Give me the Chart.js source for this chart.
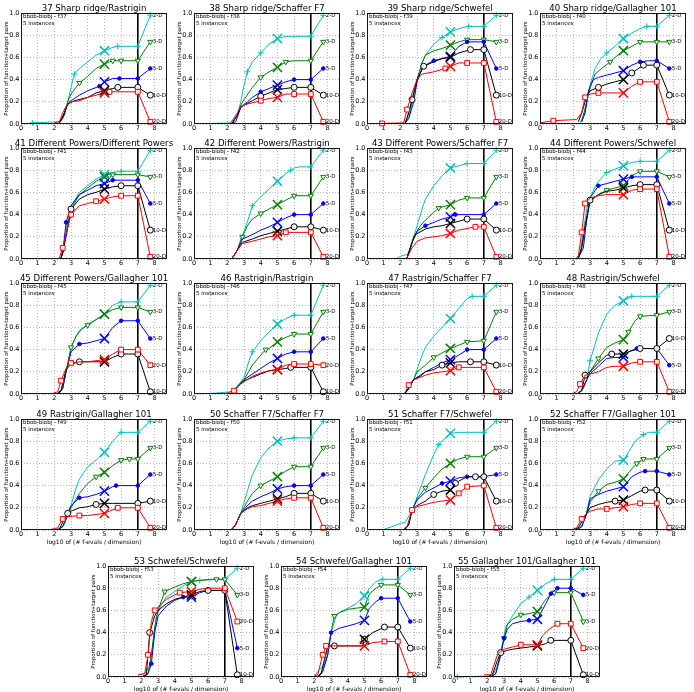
<!DOCTYPE html>
<html><head><meta charset="utf-8">
<script src="https://cdn.jsdelivr.net/npm/chart.js@4.4.1/dist/chart.umd.min.js"></script>
<style>
html,body{margin:0;padding:0;background:#fff}
body{width:694px;height:692px;position:relative;overflow:hidden}
canvas{position:absolute}
</style>
</head><body>
<script>
// ---------------- data ----------------
const dims = ['2-D', '3-D', '5-D', '10-D', '20-D'];
const seriesColors = ['#00BFBF', '#008000', '#0000FF', '#000000', '#FF0000'];
const panelIds = [37,38,39,40,41,42,43,44,45,46,47,48,49,50,51,52,53,54,55];
const titles = [
  '37 Sharp ridge/Rastrigin', '38 Sharp ridge/Schaffer F7', '39 Sharp ridge/Schwefel', '40 Sharp ridge/Gallagher 101',
  '41 Different Powers/Different Powers', '42 Different Powers/Rastrigin', '43 Different Powers/Schaffer F7', '44 Different Powers/Schwefel',
  '45 Different Powers/Gallagher 101', '46 Rastrigin/Rastrigin', '47 Rastrigin/Schaffer F7', '48 Rastrigin/Schwefel',
  '49 Rastrigin/Gallagher 101', '50 Schaffer F7/Schaffer F7', '51 Schaffer F7/Schwefel', '52 Schaffer F7/Gallagher 101',
  '53 Schwefel/Schwefel', '54 Schwefel/Gallagher 101', '55 Gallagher 101/Gallagher 101'
];
const xTicks = [0, 1, 2, 3, 4, 5, 6, 7, 8];
const yTicks = [0, 0.2, 0.4, 0.6, 0.8, 1.0];
const xMax = 8.75;
const budgetLine = 7;   // log10 of max budget (vertical line)
const medianMark = 5;   // position of the big X markers
const instancesText = '5 instances';
const xLabelText = 'log10 of (# f-evals / dimension)';
const yLabelText = 'Proportion of function+target pairs';

// each panel: [2-D, 3-D, 5-D, 10-D, 20-D]; points [x, y, marker?]
const f37 = [
 [[0.7,0.01,1],[2.3,0.02],[2.6,0.08],[2.8,0.2],[3.0,0.33],[3.2,0.45,1],[3.5,0.5],[4.0,0.56],[4.5,0.62],[5,0.66],[5.5,0.69],[5.8,0.7,1],[7,0.7],[7.75,0.98]],
 [[2.3,0.01],[2.6,0.08],[2.8,0.2],[3.0,0.27],[3.5,0.37,1],[4,0.43],[4.5,0.5],[5,0.54],[5.3,0.56],[5.5,0.57,1],[6,0.57,1],[7,0.57],[7.75,0.74]],
 [[2.3,0.01],[2.5,0.05],[2.7,0.15],[2.9,0.2],[3.5,0.26],[4,0.3],[4.7,0.34,1],[5,0.38],[5.5,0.41],[5.9,0.41,1],[7,0.41],[7.75,0.5]],
 [[2.3,0.01],[2.6,0.1],[2.8,0.18],[3.2,0.21],[4,0.24],[4.5,0.28],[5,0.3],[5.5,0.32],[5.8,0.33,1],[7,0.33],[7.75,0.26]],
 [[2.0,0.01],[2.3,0.02],[2.5,0.1],[2.7,0.16],[3,0.2],[3.5,0.21],[4,0.24],[4.5,0.26],[5,0.28],[5.3,0.29,1],[6,0.29],[7,0.29],[7.75,0.02]]
];
const f38 = [
 [[1,0.005],[2.3,0.01],[2.6,0.08],[2.8,0.2],[3.0,0.35],[3.2,0.47,1],[3.5,0.56],[4.0,0.64,1],[4.5,0.72],[5,0.77],[5.5,0.79],[6,0.79],[7,0.79],[7.75,0.98]],
 [[2.3,0.01],[2.6,0.08],[2.8,0.17],[3.0,0.22],[3.5,0.33],[4,0.42,1],[4.5,0.47],[5,0.51],[5.5,0.56,1],[6,0.57],[7,0.57],[7.75,0.74]],
 [[2.3,0.01],[2.5,0.02],[2.8,0.15],[3.2,0.2],[3.5,0.24],[4,0.29,1],[4.5,0.32],[5,0.35],[5.5,0.38],[6,0.4,1],[7,0.4],[7.75,0.5]],
 [[2.3,0.01],[2.6,0.08],[2.8,0.15],[3,0.17],[3.5,0.21],[4,0.25,1],[4.5,0.28],[5,0.31],[5.5,0.32],[6,0.33,1],[7,0.33],[7.75,0.26]],
 [[2.2,0.01],[2.6,0.1],[2.8,0.16],[3.2,0.18],[4,0.21,1],[4.5,0.23],[5,0.24],[5.5,0.27],[6,0.27,1],[7,0.27],[7.75,0.02]]
];
const f39 = [
 [[2.2,0.01],[2.5,0.05],[2.8,0.25],[3.0,0.4],[3.3,0.55],[3.5,0.62],[4,0.72],[4.5,0.78,1],[5,0.83],[5.5,0.86],[6.1,0.88,1],[7,0.88],[7.75,0.98]],
 [[2.3,0.01],[2.6,0.15],[3.0,0.4],[3.3,0.55],[3.5,0.62],[4,0.66],[4.5,0.68],[5,0.71],[5.5,0.74],[6,0.76,1],[7,0.76],[7.75,0.74]],
 [[2.3,0.01],[2.5,0.05],[2.8,0.2],[3.0,0.38],[3.3,0.5],[3.6,0.54],[4,0.57,1],[4.5,0.59],[5,0.61],[5.5,0.7],[6,0.74,1],[7,0.74],[7.75,0.5]],
 [[2.3,0.01],[2.5,0.1],[2.7,0.22,1],[3.0,0.4],[3.4,0.52,1],[4,0.56],[4.5,0.59],[5,0.6],[5.5,0.64],[6.2,0.67,1],[7,0.67],[7.75,0.26]],
 [[0.9,0.005,1],[2.2,0.01],[2.4,0.13,1],[2.7,0.28],[3.0,0.4],[3.3,0.45],[4,0.47],[4.7,0.5,1],[5,0.52],[5.5,0.55],[6,0.55,1],[7,0.55],[7.75,0.02]]
];
const f40 = [
 [[2.4,0.01],[2.7,0.1],[3.0,0.35],[3.3,0.5],[3.6,0.58],[4,0.64,1],[4.5,0.7],[5,0.77],[5.5,0.82],[6,0.86],[6.4,0.88,1],[7,0.88],[7.75,0.98]],
 [[2.5,0.02],[2.8,0.2],[3.0,0.33],[3.3,0.45],[3.7,0.5],[4.2,0.56,1],[4.5,0.6],[5,0.66],[5.5,0.7],[6,0.74,1],[7,0.74],[7.75,0.74]],
 [[2.5,0.02],[2.7,0.1],[2.9,0.3],[3.2,0.4],[3.5,0.42],[4,0.44],[4.5,0.46],[5,0.48],[5.5,0.53],[6,0.56,1],[6.5,0.57],[7,0.57],[7.75,0.5]],
 [[2.3,0.02],[2.5,0.1],[2.8,0.25],[3.0,0.3],[3.5,0.33,1],[4,0.36],[4.5,0.38],[5,0.4],[5.5,0.46,1],[6.2,0.53,1],[7,0.53],[7.75,0.26]],
 [[0,0.01],[0.8,0.03,1],[2.2,0.04],[2.5,0.1],[2.7,0.24,1],[3.0,0.27],[3.5,0.28,1],[4,0.28],[5,0.28],[5.5,0.34],[6,0.38,1],[7,0.38],[7.75,0.02]]
];
const f41 = [
 [[2.4,0.01],[2.6,0.15],[2.8,0.35],[3.0,0.48],[3.3,0.55],[3.5,0.6],[4,0.66],[4.5,0.72],[5,0.76],[5.5,0.78],[6,0.79,1],[7,0.79],[7.75,0.98]],
 [[2.4,0.01],[2.6,0.15],[2.8,0.3],[3,0.45],[3.5,0.58],[4,0.64],[4.5,0.7],[5,0.74],[5.3,0.75,1],[5.5,0.76,1],[6,0.76],[7,0.76],[7.75,0.74]],
 [[2.4,0.01],[2.5,0.05],[2.7,0.33,1],[3,0.48],[3.5,0.58],[4,0.62],[4.5,0.66],[5,0.68],[5.5,0.71,1],[6,0.71],[7,0.71],[7.75,0.5]],
 [[2.4,0.01],[2.5,0.05],[2.7,0.2],[3,0.45,1],[3.5,0.54],[4,0.58],[4.5,0.6],[5,0.63],[5.5,0.65],[6,0.66,1],[7,0.66],[7.75,0.26]],
 [[2.3,0.01],[2.5,0.1,1],[3,0.4,1],[3.5,0.48],[4,0.5],[4.5,0.52,1],[5,0.54],[5.5,0.56],[6,0.57,1],[7,0.57],[7.75,0.02]]
];
const f42 = [
 [[2.3,0.01],[2.6,0.08],[2.8,0.18],[3.0,0.25],[3.3,0.38],[3.5,0.48,1],[4,0.56],[4.5,0.63],[5,0.7],[5.5,0.77],[5.8,0.8,1],[6,0.82],[6.3,0.83],[7,0.83],[7.75,0.98]],
 [[2.3,0.01],[2.6,0.08],[2.9,0.2,1],[3.2,0.3],[3.5,0.36],[4,0.41,1],[4.5,0.45],[5,0.49],[5.5,0.53],[6,0.57,1],[7,0.57],[7.75,0.74]],
 [[2.3,0.01],[2.6,0.08],[2.9,0.18],[3.5,0.22],[4,0.26],[4.5,0.29],[5,0.33],[5.5,0.37],[6,0.4,1],[7,0.4],[7.75,0.5]],
 [[2.3,0.01],[2.6,0.08],[2.9,0.15],[3.5,0.18],[4,0.21],[4.5,0.23],[5,0.25],[5.5,0.27],[6,0.29,1],[7,0.29],[7.75,0.26]],
 [[2.3,0.01],[2.6,0.08],[2.9,0.14],[3.5,0.16],[4,0.18],[4.5,0.2],[5,0.21],[5.5,0.24,1],[6,0.24],[7,0.24],[7.75,0.02]]
];
const f43 = [
 [[1.8,0.01],[2.1,0.03],[2.4,0.04],[2.6,0.08],[2.8,0.2],[3.0,0.3],[3.3,0.45],[3.5,0.54],[4,0.66],[4.5,0.75],[5,0.82],[5.5,0.84],[6,0.86,1],[7,0.86],[7.75,0.98]],
 [[2.4,0.01],[2.6,0.1],[2.8,0.2],[3.2,0.3],[3.5,0.35],[4,0.42],[4.3,0.46,1],[5,0.49],[5.5,0.53],[6,0.55,1],[7,0.55],[7.75,0.74]],
 [[2.4,0.01],[2.7,0.15],[3.0,0.25],[3.5,0.3,1],[4,0.33],[4.5,0.36],[5,0.38],[5.3,0.4,1],[6,0.4],[7,0.4],[7.75,0.5]],
 [[2.4,0.01],[2.7,0.15],[2.9,0.22],[3.5,0.27],[4,0.29],[4.5,0.3],[5,0.32],[5.5,0.34],[6,0.36,1],[7,0.36],[7.75,0.26]],
 [[2.4,0.01],[2.7,0.1],[3.0,0.16],[3.5,0.19],[4,0.2],[4.5,0.21],[5,0.23],[5.5,0.26],[6.5,0.29,1],[7,0.29],[7.75,0.02]]
];
const f44 = [
 [[2.2,0.01],[2.4,0.05],[2.6,0.25],[2.8,0.45],[3.0,0.55],[3.3,0.65],[3.5,0.7],[4,0.78,1],[4.5,0.81],[5,0.84],[5.5,0.87],[6,0.88,1],[7,0.88],[7.75,0.98]],
 [[2.3,0.01],[2.5,0.1],[2.8,0.35],[3.0,0.52],[3.5,0.58],[4,0.62,1],[4.5,0.64],[5,0.66],[5.5,0.75],[6,0.79,1],[7,0.79],[7.75,0.74]],
 [[2.3,0.01],[2.6,0.1],[2.8,0.36],[3.0,0.55],[3.5,0.66,1],[4,0.68],[4.5,0.7],[5,0.72],[5.5,0.74,1],[6,0.74],[7,0.74],[7.75,0.5]],
 [[2.3,0.01],[2.5,0.1],[2.7,0.3],[3.0,0.53,1],[3.5,0.58],[4,0.61],[4.5,0.62],[5,0.64],[5.5,0.66],[6,0.67,1],[7,0.67],[7.75,0.26]],
 [[2.2,0.01],[2.3,0.03],[2.5,0.24,1],[2.7,0.5,1],[3,0.55],[3.5,0.57],[4,0.58],[4.5,0.58],[5,0.58],[5.5,0.62],[6,0.63,1],[7,0.63],[7.75,0.02]]
];
const f45 = [
 [[2.2,0.01],[2.4,0.03],[2.7,0.2],[3.0,0.42],[3.3,0.52],[3.5,0.57],[4,0.63],[4.5,0.67],[5,0.72],[5.5,0.8],[6,0.83,1],[7,0.83],[7.75,0.98]],
 [[2.3,0.01],[2.5,0.05],[2.7,0.2],[3.0,0.42,1],[3.3,0.52],[3.6,0.58],[4,0.62,1],[4.5,0.67],[5,0.72],[5.5,0.76],[6,0.78,1],[7,0.78],[7.75,0.74]],
 [[2.3,0.01],[2.5,0.05],[2.7,0.2],[3.0,0.38],[3.5,0.45,1],[4,0.46],[4.5,0.48],[5,0.5],[5.5,0.6],[6,0.66,1],[7,0.66],[7.75,0.5]],
 [[2.2,0.01],[2.4,0.03],[2.7,0.22],[3.0,0.27],[3.5,0.29,1],[4,0.29],[4.5,0.29],[5,0.29],[5.5,0.33],[6,0.36,1],[7,0.36],[7.75,0.02]],
 [[1.9,0.005],[2.2,0.02],[2.4,0.12,1],[2.7,0.23],[3.0,0.28,1],[3.5,0.29],[4,0.29],[4.5,0.3],[5,0.31],[5.5,0.36],[6,0.4,1],[7,0.4],[7.75,0.26]]
];
const f46 = [
 [[1.0,0.005],[2.3,0.02],[2.6,0.07],[3.0,0.15],[3.3,0.3],[3.5,0.38,1],[4,0.48],[4.5,0.56],[5,0.63],[5.5,0.68],[6,0.71,1],[7,0.71],[7.75,0.98]],
 [[2.3,0.01],[2.6,0.07],[3.0,0.13],[3.5,0.26],[4,0.35],[4.3,0.4,1],[4.5,0.41],[5,0.47],[5.5,0.51],[6,0.54,1],[7,0.54],[7.75,0.74]],
 [[2.3,0.01],[2.7,0.08],[3.0,0.13],[3.5,0.18],[4,0.23],[4.5,0.28],[5,0.32],[5.5,0.36],[6,0.38,1],[7,0.38],[7.75,0.5]],
 [[2.3,0.01],[2.7,0.08],[3,0.12],[3.5,0.15],[4,0.18],[4.5,0.21],[5,0.22],[5.5,0.23],[5.8,0.24,1],[7,0.24],[7.75,0.02]],
 [[2.0,0.01],[2.4,0.03,1],[2.7,0.08],[3,0.11],[3.5,0.16],[4,0.19],[4.5,0.21],[5,0.22],[5.5,0.26],[6,0.27,1],[7,0.27],[7.75,0.26]]
];
const f47 = [
 [[2.2,0.005],[2.5,0.05],[2.8,0.13],[3.0,0.22],[3.3,0.35],[3.5,0.42],[4,0.52],[4.5,0.6],[5,0.68],[5.5,0.77],[6,0.86],[6.3,0.88,1],[7,0.88],[7.75,0.98]],
 [[2.3,0.01],[2.5,0.05],[2.8,0.13],[3.0,0.2],[3.5,0.26],[4,0.33,1],[4.5,0.37],[5,0.41],[5.5,0.44],[6,0.47,1],[7,0.48],[7.75,0.74]],
 [[2.3,0.01],[2.5,0.05],[2.8,0.13],[3.2,0.17],[3.5,0.2],[4,0.24],[4.5,0.28],[5,0.31],[5.5,0.35],[6,0.4,1],[7,0.4],[7.75,0.5]],
 [[2.3,0.01],[2.5,0.05],[2.8,0.13],[3.2,0.16],[3.5,0.2],[4,0.22],[4.5,0.26,1],[5,0.28],[5.5,0.29],[6.2,0.29,1],[7,0.29],[7.75,0.26]],
 [[2.3,0.02],[2.5,0.08,1],[2.8,0.13],[3.2,0.15],[3.5,0.17],[4,0.19],[4.5,0.2],[5,0.21],[5.5,0.24,1],[6,0.24],[7,0.24],[7.75,0.02]]
];
const f48 = [
 [[2.3,0.01],[2.6,0.05],[2.8,0.12],[3.0,0.3,1],[3.3,0.45],[3.5,0.55],[4,0.72],[4.5,0.8],[5,0.84],[5.5,0.88,1],[6,0.88],[7,0.88],[7.75,0.98]],
 [[2.3,0.01],[2.5,0.03],[2.8,0.13],[3.0,0.2],[3.5,0.32,1],[4,0.42],[4.5,0.46],[5,0.49],[5.3,0.56,1],[5.7,0.66],[6,0.7,1],[7,0.71],[7.75,0.74]],
 [[2.3,0.01],[2.5,0.03],[2.8,0.13],[3.0,0.18],[3.5,0.25],[4,0.32],[4.5,0.33],[5,0.33],[5.3,0.38],[5.8,0.41,1],[7,0.41],[7.75,0.26]],
 [[2.3,0.01],[2.5,0.03],[2.7,0.17,1],[3.0,0.2],[3.5,0.28],[4,0.35],[4.3,0.36,1],[5,0.36],[5.5,0.39],[6,0.41,1],[7,0.41],[7.75,0.5]],
 [[2.0,0.01],[2.2,0.02],[2.4,0.09,1],[2.7,0.17],[3.0,0.18],[3.5,0.2],[4,0.24],[4.5,0.25],[5,0.25],[5.5,0.28],[6,0.29,1],[7,0.29],[7.75,0.02]]
];
const f49 = [
 [[2.3,0.01],[2.6,0.05],[2.8,0.13],[3.0,0.22],[3.3,0.38],[3.5,0.46],[4,0.57],[4.5,0.63],[5,0.7],[5.5,0.8],[6,0.88,1],[7,0.88],[7.75,0.98]],
 [[2.3,0.01],[2.5,0.03],[2.8,0.13],[3,0.2],[3.5,0.33],[4,0.42],[4.5,0.48,1],[5,0.52],[5.5,0.58],[6,0.63,1],[6.5,0.64,1],[7,0.64],[7.75,0.74]],
 [[2.3,0.01],[2.5,0.03],[2.8,0.15],[3.0,0.22],[3.5,0.29,1],[4,0.3],[4.5,0.32],[5,0.35],[5.5,0.39],[5.7,0.4,1],[7,0.4],[7.75,0.5]],
 [[2.1,0.005],[2.3,0.01],[2.6,0.1],[2.8,0.15,1],[3.0,0.17],[3.5,0.2],[4,0.21],[4.5,0.23,1],[5,0.24],[5.5,0.24],[6,0.24],[7,0.24],[7.75,0.26]],
 [[1.8,0.005],[2.2,0.02],[2.5,0.1,1],[2.8,0.12],[3.5,0.13,1],[4,0.13],[4.5,0.14],[5,0.15],[5.3,0.17],[5.8,0.2,1],[7,0.2],[7.75,0.02]]
];
const f50 = [
 [[2.2,0.005],[2.5,0.05],[2.8,0.15],[3.0,0.25],[3.3,0.4],[3.5,0.5],[4,0.65],[4.5,0.74],[5,0.8],[5.5,0.82],[6,0.83,1],[7,0.83],[7.75,0.98]],
 [[2.3,0.01],[2.5,0.05],[2.8,0.15],[3.2,0.26],[3.5,0.33],[4,0.4,1],[4.5,0.44],[5,0.48],[5.5,0.53],[6,0.57,1],[7,0.57],[7.75,0.74]],
 [[2.3,0.01],[2.5,0.05],[2.8,0.15],[3.2,0.22],[3.5,0.26],[4,0.3],[4.5,0.33],[5,0.37],[5.5,0.39],[6,0.4,1],[7,0.4],[7.75,0.5]],
 [[2.3,0.01],[2.5,0.05],[2.8,0.15],[3.2,0.2],[3.5,0.22],[4,0.24],[4.5,0.26],[5,0.28],[5.5,0.3],[6,0.33,1],[7,0.33],[7.75,0.26]],
 [[2.3,0.01],[2.5,0.05],[2.8,0.15],[3.2,0.19],[3.5,0.21],[4,0.22],[4.5,0.24],[5,0.26],[5.5,0.28],[6,0.29,1],[7,0.29],[7.75,0.02]]
];
const f51 = [
 [[1.0,0.005],[1.5,0.03],[2.0,0.06],[2.3,0.07],[2.6,0.15],[2.8,0.2],[3.0,0.3],[3.5,0.5],[4,0.68],[4.3,0.77,1],[4.5,0.8],[5,0.87],[5.5,0.88],[7,0.88],[7.75,0.98]],
 [[2.3,0.01],[2.5,0.05],[2.7,0.18],[3.0,0.28],[3.5,0.38,1],[4,0.47],[4.5,0.55],[5,0.6],[5.5,0.64],[6,0.66,1],[7,0.66],[7.75,0.74]],
 [[2.3,0.01],[2.5,0.05],[2.7,0.18],[3.0,0.27],[3.5,0.34],[4,0.38],[4.5,0.42,1],[5,0.44],[5.5,0.47],[6,0.48,1],[7,0.48],[7.75,0.5]],
 [[2.3,0.01],[2.5,0.05],[2.7,0.18],[3.0,0.22],[3.5,0.26],[4,0.32,1],[4.5,0.35],[5,0.36],[5.3,0.42,1],[5.5,0.44],[6,0.48],[6.5,0.48,1],[7,0.48],[7.75,0.26]],
 [[2.2,0.01],[2.4,0.03],[2.7,0.18,1],[3.0,0.21],[3.5,0.23],[4,0.25],[4.5,0.26],[5,0.27],[5.5,0.33,1],[6,0.39,1],[7,0.4],[7.75,0.02]]
];
const f52 = [
 [[2.2,0.01],[2.4,0.02],[2.7,0.1],[3.0,0.3],[3.5,0.45],[4,0.55],[4.5,0.62],[5,0.63],[5.3,0.7],[5.7,0.8],[6.2,0.86,1],[6.5,0.88],[7,0.88],[7.75,0.98]],
 [[2.3,0.01],[2.5,0.03],[2.8,0.15],[3.0,0.25],[3.5,0.35,1],[4,0.41],[4.5,0.43],[5,0.46],[5.5,0.55],[5.8,0.6,1],[6.2,0.64,1],[7,0.64],[7.75,0.74]],
 [[2.3,0.01],[2.5,0.03],[2.8,0.15],[3.0,0.28],[3.5,0.32],[4,0.35],[4.5,0.37],[5,0.39],[5.5,0.48],[6,0.52],[6.3,0.53,1],[7,0.53],[7.75,0.5]],
 [[2.1,0.01],[2.3,0.02],[2.6,0.1],[3.0,0.2],[3.5,0.23],[4,0.25],[4.5,0.26,1],[5,0.27],[5.5,0.31],[6,0.35],[6.3,0.36,1],[7,0.36],[7.75,0.26]],
 [[2.0,0.01],[2.2,0.02],[2.5,0.1,1],[2.8,0.15],[3.0,0.17],[3.5,0.19],[4,0.19,1],[4.5,0.2],[5,0.21],[5.5,0.23],[6,0.24,1],[7,0.24],[7.75,0.02]]
];
const f53 = [
 [[1.8,0.02],[2.2,0.03],[2.5,0.1],[2.7,0.3],[2.9,0.55],[3.2,0.65],[3.5,0.72],[4,0.77],[4.5,0.82],[5,0.86],[5.5,0.87,1],[6,0.88],[7,0.88],[7.75,0.98]],
 [[2.2,0.01],[2.4,0.03],[2.6,0.2],[2.8,0.45],[3.0,0.6],[3.4,0.77,1],[4,0.81],[4.5,0.84],[5,0.86],[5.5,0.87],[6.5,0.88,1],[7,0.88],[7.75,0.74]],
 [[2.2,0.01],[2.4,0.03],[2.6,0.12,1],[2.8,0.4],[3.0,0.55],[3.5,0.64],[4,0.69],[4.5,0.72,1],[5,0.72],[5.5,0.76],[6,0.78],[7,0.78],[7.75,0.26]],
 [[2.1,0.01],[2.3,0.02],[2.5,0.4,1],[2.8,0.55],[3.0,0.6],[3.5,0.66],[4,0.7],[4.5,0.72],[5,0.74],[5.5,0.77],[6,0.78,1],[7,0.78],[7.75,0.02]],
 [[1.8,0.02],[2.2,0.03],[2.4,0.2,1],[2.6,0.5],[2.8,0.6,1],[3.0,0.63],[3.5,0.7],[4.0,0.74],[4.3,0.76,1],[5,0.77],[5.5,0.79],[6,0.8],[7,0.8],[7.75,0.5]]
];
const f54 = [
 [[2.0,0.01],[2.5,0.1],[2.8,0.25],[3.0,0.4],[3.3,0.55],[3.5,0.58],[4,0.62],[4.5,0.66],[5,0.73],[5.3,0.8],[5.7,0.86],[6.1,0.88,1],[7,0.88],[7.75,0.98]],
 [[2.3,0.01],[2.5,0.05],[2.8,0.2],[3.0,0.4],[3.2,0.55,1],[3.5,0.58],[4,0.61],[4.5,0.62],[5,0.63],[5.3,0.75],[5.7,0.8],[6,0.83,1],[7,0.83],[7.75,0.74]],
 [[2.3,0.01],[2.5,0.05],[2.8,0.2],[3.0,0.4,1],[3.5,0.44],[4,0.46],[4.5,0.48],[5,0.51],[5.3,0.62],[5.7,0.68],[6,0.71,1],[7,0.71],[7.75,0.5]],
 [[2.2,0.01],[2.4,0.03],[2.6,0.15],[2.8,0.28],[3.2,0.28,1],[4,0.28],[4.9,0.28],[5,0.34,1],[5.5,0.4],[6.2,0.45,1],[7,0.45],[7.75,0.26]],
 [[2.0,0.01],[2.2,0.02],[2.5,0.2,1],[2.7,0.28,1],[3.0,0.28],[4,0.28],[5,0.28],[5.5,0.31],[6.2,0.32,1],[7,0.32],[7.75,0.02]]
];
const f55 = [
 [[0.2,0.0,1],[2.3,0.01],[2.6,0.1],[2.9,0.3],[3.1,0.45],[3.5,0.55],[4,0.66],[4.5,0.72,1],[5,0.78],[5.5,0.84],[6,0.88,1],[7,0.88],[7.75,0.98]],
 [[2.3,0.01],[2.5,0.03],[2.8,0.2],[3.0,0.35,1],[3.2,0.47],[3.5,0.52],[4,0.56,1],[4.5,0.57],[5,0.59],[5.5,0.7],[6,0.76,1],[7,0.76],[7.75,0.5]],
 [[2.3,0.01],[2.5,0.03],[2.8,0.2],[3.0,0.35,1],[3.2,0.43],[3.5,0.48],[4,0.5],[4.5,0.51,1],[5,0.52],[5.5,0.66],[5.8,0.75,1],[6.2,0.8,1],[7,0.8],[7.75,0.74]],
 [[2.1,0.01],[2.3,0.02],[2.6,0.15],[2.8,0.22,1],[3.2,0.24],[3.5,0.25],[4,0.26],[4.5,0.27],[5,0.28],[5.5,0.3],[5.8,0.33,1],[7,0.33],[7.75,0.02]],
 [[1.8,0.02],[2.2,0.02],[2.6,0.2],[2.8,0.23],[3.0,0.25],[3.5,0.27],[4,0.29,1],[4.5,0.29],[5,0.29],[5.3,0.37],[5.7,0.43],[6.2,0.48,1],[7,0.48],[7.75,0.26]]
];
const panelSeries = [f37,f38,f39,f40,f41,f42,f43,f44,f45,f46,f47,f48,f49,f50,f51,f52,f53,f54,f55];

// ---------------- layout / style ----------------
const FAM = "'DejaVu Sans', 'Liberation Sans', sans-serif";
const colX = [21, 194, 367, 540];
const rowY = [13, 148, 283, 419];
const lastRowX = [108, 281, 454];
const lastRowY = 566;
const PW = 146, PH = 111;
const EXTRA = 8;
const LEFT = 22, TOP = 13, BOTTOM = 24, RIGHT = 8;
const CW = EXTRA + LEFT + PW + RIGHT + EXTRA, CH = TOP + PH + BOTTOM;
const pStyles = ['cross', 'triangle', 'circle', 'circle', 'rect'];
const pRot = [0, 180, 0, 0, 0];
const pRad = [3, 3, 1.8, 3, 3.4];
const pFill = [null, 'rgba(255,255,255,0.9)', 'fill', 'rgba(255,255,255,0.9)', 'rgba(255,255,255,0.9)'];

function valueAt(s, x) {
  for (let i = 1; i < s.length; i++) {
    if (s[i][0] >= x) {
      const a = s[i-1], b = s[i];
      return a[1] + (b[1] - a[1]) * (x - a[0]) / (b[0] - a[0]);
    }
  }
  return s[s.length-1][1];
}

const decor = {
  id: 'decor',
  beforeDatasetsDraw(chart) {
    const {ctx, chartArea: a, scales: {x}} = chart;
    ctx.save();
    const px = x.getPixelForValue(budgetLine);
    ctx.strokeStyle = '#000'; ctx.lineWidth = 1.6;
    ctx.beginPath(); ctx.moveTo(px, a.top); ctx.lineTo(px, a.bottom); ctx.stroke();
    ctx.restore();
  },
  afterDraw(chart) {
    const o = chart.options.plugins.decor;
    const {ctx, chartArea: a} = chart;
    ctx.save();
    // frame
    ctx.strokeStyle = '#000'; ctx.lineWidth = 0.9;
    ctx.strokeRect(a.left + 0.5, a.top + 0.5, a.right - a.left - 1, a.bottom - a.top - 1);
    // dimension labels
    ctx.fillStyle = '#000';
    ctx.font = '5.5px ' + FAM; ctx.textAlign = 'left'; ctx.textBaseline = 'middle';
    for (let j = 0; j < 5; j++) {
      const meta = chart.getDatasetMeta(j);
      const el = meta.data[meta.data.length - 1];
      ctx.fillText(dims[j], el.x + 2.5, el.y);
    }
    // annotation
    ctx.font = '5.5px ' + FAM; ctx.textBaseline = 'middle';
    ctx.fillText('bbob-biobj - f' + o.fid, a.left + 2, a.top + 4);
    ctx.fillText(instancesText, a.left + 2, a.top + 10.5);
    // title
    ctx.font = '8.6px ' + FAM; ctx.textAlign = 'center'; ctx.textBaseline = 'alphabetic';
    ctx.fillText(o.title, (a.left + a.right) / 2, a.top - 2.5);
    // y label
    ctx.font = '5.4px ' + FAM; ctx.textBaseline = 'middle';
    ctx.translate(a.left - 14.5, (a.top + a.bottom) / 2); ctx.rotate(-Math.PI / 2);
    ctx.fillText(yLabelText, 0, 0);
    ctx.setTransform(1, 0, 0, 1, 0, 0);
    if (o.xlabel) {
      ctx.font = '6px ' + FAM; ctx.textAlign = 'center'; ctx.textBaseline = 'middle';
      ctx.fillText(xLabelText, (a.left + a.right) / 2, a.bottom + 12.5);
    }
    ctx.restore();
  }
};

panelIds.forEach((fid, i) => {
  let ax, ay, xlabel;
  if (i < 16) { ax = colX[i % 4]; ay = rowY[Math.floor(i / 4)]; xlabel = i >= 12; }
  else { ax = lastRowX[i - 16]; ay = lastRowY; xlabel = true; }
  const cv = document.createElement('canvas');
  cv.width = CW; cv.height = CH;
  cv.style.left = (ax - LEFT - EXTRA) + 'px'; cv.style.top = (ay - TOP) + 'px';
  cv.style.width = CW + 'px'; cv.style.height = CH + 'px';
  document.body.appendChild(cv);
  const series = panelSeries[i];
  const datasets = series.map((s, j) => ({
    data: s.map(p => ({x: p[0], y: p[1], m: p[2] || 0})),
    borderColor: seriesColors[j],
    borderWidth: 1,
    tension: 0,
    clip: false,
    pointStyle: pStyles[j],
    rotation: pRot[j],
    pointRadius: c => (c.raw && (c.raw.m || c.raw.x >= budgetLine)) ? pRad[j] : 0,
    pointBorderColor: seriesColors[j],
    pointBackgroundColor: pFill[j] === 'fill' ? seriesColors[j] : (pFill[j] || 'rgba(0,0,0,0)'),
    pointBorderWidth: 1,
    order: 5 - j
  }));
  datasets.push({
    data: series.map(s => ({x: medianMark, y: valueAt(s, medianMark)})),
    showLine: false,
    pointStyle: 'crossRot',
    pointRadius: 6.5,
    pointBorderWidth: 1.5,
    pointBorderColor: seriesColors,
    pointBackgroundColor: 'rgba(0,0,0,0)',
    clip: false,
    order: -1
  });
  new Chart(cv, {
    type: 'line',
    data: {datasets},
    plugins: [decor],
    options: {
      responsive: false, animation: false, devicePixelRatio: 1,
      layout: {padding: {top: TOP, right: RIGHT + EXTRA, left: EXTRA, bottom: 0}},
      plugins: {legend: {display: false}, tooltip: {enabled: false}, decor: {fid, title: titles[i], xlabel}},
      scales: {
        x: {
          type: 'linear', min: 0, max: xMax,
          afterBuildTicks: sc => { sc.ticks = xTicks.map(v => ({value: v})); },
          afterFit: sc => { sc.height = BOTTOM; },
          ticks: {font: {size: 6.5, family: FAM}, color: '#000', padding: 0.5, maxRotation: 0, autoSkip: false, callback: v => String(v)},
          grid: {color: '#9a9a9a', lineWidth: 0.7, drawTicks: false},
          border: {display: false, dash: [1, 2]}
        },
        y: {
          type: 'linear', min: 0, max: 1,
          afterBuildTicks: sc => { sc.ticks = yTicks.map(v => ({value: v})); },
          afterFit: sc => { sc.width = LEFT; },
          ticks: {font: {size: 6.5, family: FAM}, color: '#000', padding: 1.5, callback: v => v.toFixed(1)},
          grid: {color: '#9a9a9a', lineWidth: 0.7, drawTicks: false},
          border: {display: false, dash: [1, 2]}
        }
      }
    }
  });
});
</script>
</body></html>
